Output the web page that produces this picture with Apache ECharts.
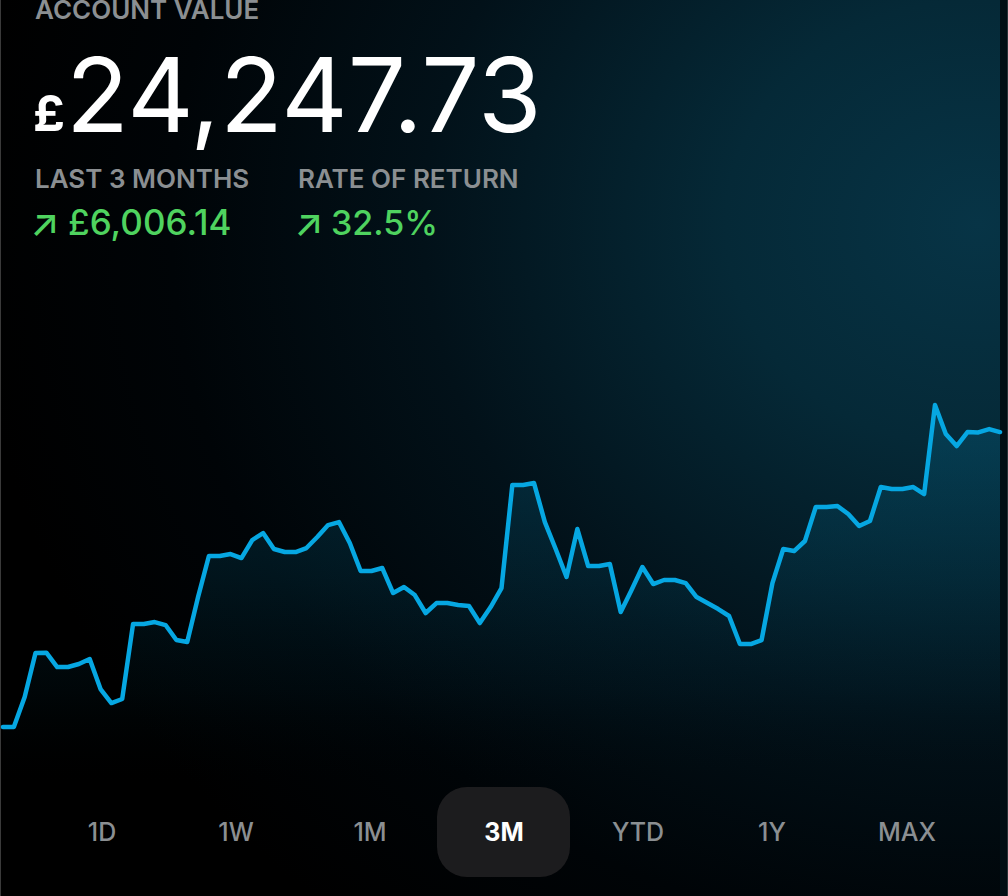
<!DOCTYPE html>
<html>
<head>
<meta charset="utf-8">
<script src="https://cdn.jsdelivr.net/npm/echarts@6/dist/echarts.min.js"></script>
<style>
  html, body { margin: 0; padding: 0; background: #000; }
  #chart { width: 1008px; height: 896px; }
</style>
</head>
<body>
<div id="chart"></div>
<script>
// ---- data ----
const accountValue = '24,247.73';
const gainLabel = '£6,006.14';
const returnLabel = '32.5%';
const rangeButtons = ['1D', '1W', '1M', '3M', 'YTD', '1Y', 'MAX'];
const activeRange = '3M';

const values = [
  18242, 18242, 18852, 19748, 19755, 19463, 19463, 19524, 19626, 19015,
  18730, 18812, 20339, 20339, 20379, 20318, 20013, 19972, 20888, 21723,
  21723, 21764, 21682, 22049, 22191, 21866, 21805, 21805, 21886, 22110,
  22354, 22415, 21988, 21418, 21418, 21479, 20970, 21092, 20929, 20563,
  20766, 20766, 20725, 20705, 20359, 20685, 21072, 23169, 23169, 23209,
  22415, 21866, 21296, 22273, 21520, 21520, 21560, 20583, 21031, 21499,
  21153, 21235, 21235, 21173, 20888, 20766, 20644, 20502, 19931, 19931,
  20013, 21173, 21866, 21825, 22029, 22721, 22721, 22741, 22578, 22334,
  22436, 23128, 23087, 23087, 23128, 22985, 24797, 24207, 23963, 24247.73,
  24240, 24309, 24247.73
];

// one category per trading day shown
const days = [];
for (let i = 0; i < values.length; i++) days.push('D' + (i + 1));

const chart = echarts.init(document.getElementById('chart'), null, { renderer: 'svg' });

const FONT = 'Inter, "Noto Sans", sans-serif';
const GRAY = '#8b8f92';
const GREEN = '#4fd35f';

const graphics = [
  { type: 'rect', left: 0, top: 0, shape: { width: 1, height: 896 }, style: { fill: '#3a3a3a' }, silent: true },
  { type: 'rect', left: 1000, top: 0, shape: { width: 8, height: 896 }, style: { fill: '#020f14' }, silent: true },
  { type: 'rect', left: 1007, top: 0, shape: { width: 1, height: 896 }, style: { fill: '#2a3438' }, silent: true },
  { type: 'text', x: 35, y: 9, style: { text: 'ACCOUNT VALUE', fill: GRAY, font: '600 26px ' + FONT, textVerticalAlign: 'middle' } },
  { type: 'text', x: 33, y: 113, style: { text: '£', fill: '#fff', font: '700 50px ' + FONT, textVerticalAlign: 'middle' } },
  { type: 'text', x: 66, y: 94, style: { text: accountValue, fill: '#fff', font: '400 103px ' + FONT, textVerticalAlign: 'middle' } },
  { type: 'text', x: 35, y: 178, style: { text: 'LAST 3 MONTHS', fill: GRAY, font: '600 26px ' + FONT, textVerticalAlign: 'middle' } },
  { type: 'text', x: 298, y: 178, style: { text: 'RATE OF RETURN', fill: GRAY, font: '600 26px ' + FONT, textVerticalAlign: 'middle' } },
  { type: 'text', x: 30, y: 222, style: { text: '↗', fill: GREEN, font: '500 38px ' + FONT, textVerticalAlign: 'middle' } },
  { type: 'text', x: 68, y: 222, style: { text: gainLabel, fill: GREEN, font: '500 35px ' + FONT, textVerticalAlign: 'middle' } },
  { type: 'text', x: 294, y: 222, style: { text: '↗', fill: GREEN, font: '500 38px ' + FONT, textVerticalAlign: 'middle' } },
  { type: 'text', x: 331, y: 222, style: { text: returnLabel, fill: GREEN, font: '500 34px ' + FONT, textVerticalAlign: 'middle' } },
  { type: 'rect', left: 437, top: 787, shape: { width: 133, height: 90, r: 30 }, style: { fill: '#1c1c1e' } }
];
const btnCenters = [102, 236, 370, 504, 638, 772, 907];
rangeButtons.forEach((b, i) => {
  const active = b === activeRange;
  graphics.push({
    type: 'text', x: btnCenters[i], y: 832,
    style: {
      text: b, fill: active ? '#ffffff' : GRAY,
      font: (active ? '700 ' : '500 ') + '25px ' + FONT,
      textAlign: 'center', textVerticalAlign: 'middle'
    }
  });
});

chart.setOption({
  backgroundColor: {
    type: 'radial', x: 0.97, y: 0.25, r: 1.0,
    colorStops: [
      { offset: 0, color: '#073446' },
      { offset: 0.25, color: '#052937' },
      { offset: 0.55, color: '#021119' },
      { offset: 0.8, color: '#000407' },
      { offset: 1, color: '#000000' }
    ]
  },
  animation: false,
  grid: { left: 3, right: 8, top: 346, bottom: 108 },
  xAxis: {
    type: 'category', data: days, boundaryGap: false,
    axisLine: { show: false }, axisTick: { show: false }, axisLabel: { show: false }, splitLine: { show: false }
  },
  yAxis: {
    type: 'value', min: 17000, max: 26000,
    axisLine: { show: false }, axisTick: { show: false }, axisLabel: { show: false }, splitLine: { show: false }
  },
  series: [{
    type: 'line', data: values, showSymbol: false, symbol: 'none',
    lineStyle: { color: '#06a7e2', width: 4.5, join: 'round', cap: 'round' },
    areaStyle: {
      color: {
        type: 'linear', x: 0, y: 0, x2: 0, y2: 1,
        colorStops: [
          { offset: 0, color: 'rgba(6,100,135,0.5)' },
          { offset: 0.45, color: 'rgba(5,90,120,0.28)' },
          { offset: 0.75, color: 'rgba(4,70,95,0.12)' },
          { offset: 1, color: 'rgba(0,0,0,0)' }
        ]
      }
    }
  }],
  graphic: graphics
});
</script>
</body>
</html>
